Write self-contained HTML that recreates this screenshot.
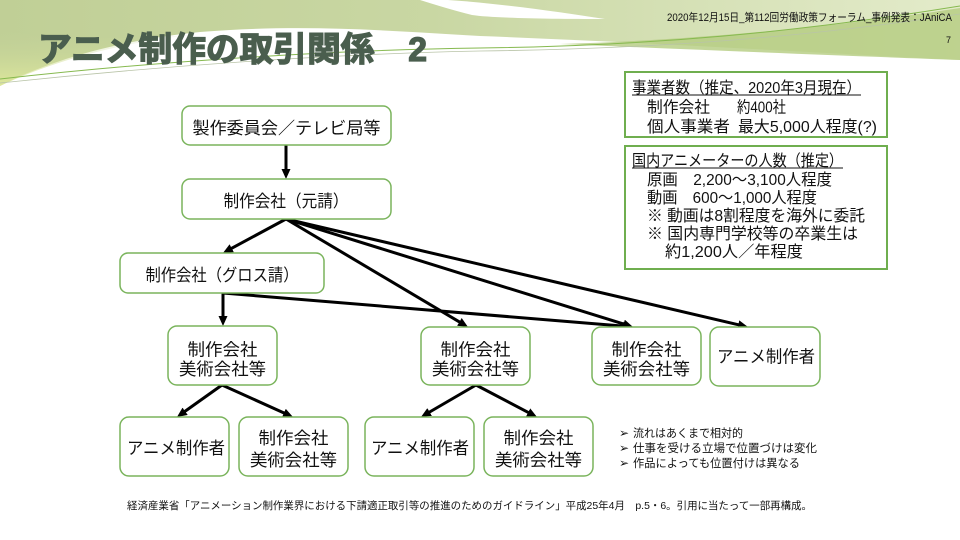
<!DOCTYPE html>
<html lang="ja">
<head>
<meta charset="utf-8">
<style>
  html, body { margin:0; padding:0; background:#fff; }
  body { width:960px; height:540px; overflow:hidden; }
  svg { display:block; }
  text { font-family:"Liberation Sans","Noto Sans CJK JP",sans-serif; fill:#111; }
  .node { fill:#fff; stroke:#7ab45c; stroke-width:1.5; }
  .info { fill:#fff; stroke:#6fae4f; stroke-width:2; }
  .arr { stroke:#000; stroke-width:3; fill:none; marker-end:url(#ah); }
  .nt { font-size:17px; text-anchor:middle; }
  .it { font-size:16px; }
  .bt { font-size:11.5px; }
  .bl { font-size:12px; font-family:"DejaVu Sans",sans-serif; }
</style>
</head>
<body>
<svg width="960" height="540" viewBox="0 0 960 540" xmlns="http://www.w3.org/2000/svg">
  <defs>
    <linearGradient id="hg" x1="0" y1="0" x2="1" y2="0">
      <stop offset="0" stop-color="#c0cf96"/>
      <stop offset="0.45" stop-color="#c9d7a3"/>
      <stop offset="1" stop-color="#e3ebca"/>
    </linearGradient>
    <linearGradient id="hgv" x1="0" y1="0" x2="0" y2="1">
      <stop offset="0" stop-color="#c3d29a" stop-opacity="0"/>
      <stop offset="1" stop-color="#e2eb9c" stop-opacity="0.9"/>
    </linearGradient>
    <marker id="ah" markerUnits="userSpaceOnUse" markerWidth="12" markerHeight="10" refX="2" refY="4.5" orient="auto">
      <path d="M0,0 L10,4.5 L0,9 Z" fill="#000"/>
    </marker>
  </defs>

  <!-- header decoration -->
  <path d="M0,0 H960 V60 C820,53 640,42 480,36 C380,30 300,24 200,32 C120,40 50,60 0,86 Z" fill="url(#hg)"/>
  <path d="M0,30 C60,40 120,40 200,34 C120,42 50,62 0,86 Z" fill="url(#hgv)"/>
  <path d="M560,44 C700,40 850,25 960,8 V60 C850,56 700,50 560,44 Z" fill="#b4cc80" opacity="0.8"/>
  <path d="M420,0 L448,0 C505,4 560,12 605,19 C545,19 492,18 472,15 C452,10 436,5 420,0 Z" fill="#ffffff"/>
  <path d="M0,79 C150,62 330,50 480,48 C650,46 800,32 960,6" stroke="#86b94f" stroke-width="1" fill="none"/>
  <path d="M0,83 C160,66 330,54 480,51 C650,49 800,38 960,14" stroke="#b9c4a8" stroke-width="0.8" fill="none"/>

  <!-- header texts -->
  <text x="667" y="21" font-size="11" textLength="285" lengthAdjust="spacingAndGlyphs">2020年12月15日_第112回労働政策フォーラム_事例発表：JAniCA</text>
  <text x="946" y="43" font-size="9">7</text>
  <text x="38" y="61" font-size="34" font-weight="bold" style="fill:#4a5e4e;stroke:#4a5e4e;stroke-width:1.3" textLength="389" lengthAdjust="spacingAndGlyphs">アニメ制作の取引関係　2</text>

  <!-- info boxes -->
  <rect class="info" x="625" y="72" width="262" height="65"/>
  <text class="it" x="632" y="93" textLength="229" lengthAdjust="spacingAndGlyphs">事業者数（推定、2020年3月現在）</text>
  <line x1="632" y1="95" x2="861" y2="95" stroke="#111" stroke-width="1"/>
  <text class="it" x="647" y="112.5" textLength="63" lengthAdjust="spacingAndGlyphs">制作会社</text>
  <text class="it" x="737" y="112.5" textLength="49" lengthAdjust="spacingAndGlyphs">約400社</text>
  <text class="it" x="647" y="132" textLength="83" lengthAdjust="spacingAndGlyphs">個人事業者</text>
  <text class="it" x="738" y="132" textLength="139" lengthAdjust="spacingAndGlyphs">最大5,000人程度(?)</text>

  <rect class="info" x="625" y="146" width="262" height="123"/>
  <text class="it" x="632" y="166" textLength="211" lengthAdjust="spacingAndGlyphs">国内アニメーターの人数（推定）</text>
  <line x1="632" y1="168" x2="843" y2="168" stroke="#111" stroke-width="1"/>
  <text class="it" x="647" y="185" textLength="185" lengthAdjust="spacingAndGlyphs">原画　2,200～3,100人程度</text>
  <text class="it" x="647" y="203" textLength="170" lengthAdjust="spacingAndGlyphs">動画　600～1,000人程度</text>
  <text class="it" x="647" y="221" textLength="218" lengthAdjust="spacingAndGlyphs">※ 動画は8割程度を海外に委託</text>
  <text class="it" x="647" y="239" textLength="211" lengthAdjust="spacingAndGlyphs">※ 国内専門学校等の卒業生は</text>
  <text class="it" x="665" y="257" textLength="138" lengthAdjust="spacingAndGlyphs">約1,200人／年程度</text>

  <!-- arrows -->
  <line class="arr" x1="286" y1="145" x2="286" y2="171"/>
  <line class="arr" x1="286" y1="219" x2="230.0" y2="249.2"/>
  <line class="arr" x1="286" y1="219" x2="461.1" y2="322.9"/>
  <line class="arr" x1="286" y1="219" x2="625.4" y2="324.6"/>
  <line class="arr" x1="286" y1="219" x2="740.2" y2="325.2"/>
  <line class="arr" x1="223" y1="293" x2="223" y2="318"/>
  <line class="arr" x1="223" y1="293" x2="625.0" y2="326.3"/>
  <line class="arr" x1="222" y1="385" x2="183.5" y2="412.4"/>
  <line class="arr" x1="222" y1="385" x2="285.7" y2="413.7"/>
  <line class="arr" x1="476" y1="385" x2="427.9" y2="413.0"/>
  <line class="arr" x1="476" y1="385" x2="529.9" y2="413.3"/>

  <!-- nodes -->
  <rect class="node" x="182" y="106" width="209" height="39" rx="8"/>
  <text class="nt" x="286.5" y="134" textLength="188" lengthAdjust="spacingAndGlyphs">製作委員会／テレビ局等</text>

  <rect class="node" x="182" y="179" width="209" height="40" rx="8"/>
  <text class="nt" x="286" y="207" textLength="125" lengthAdjust="spacingAndGlyphs">制作会社（元請）</text>

  <rect class="node" x="120" y="253" width="204" height="40" rx="8"/>
  <text class="nt" x="222" y="281" textLength="153" lengthAdjust="spacingAndGlyphs">制作会社（グロス請）</text>

  <rect class="node" x="168" y="326" width="109" height="59" rx="9"/>
  <text class="nt" x="222.5" y="355.5" textLength="70" lengthAdjust="spacingAndGlyphs">制作会社</text>
  <text class="nt" x="222.5" y="375" textLength="87" lengthAdjust="spacingAndGlyphs">美術会社等</text>

  <rect class="node" x="421" y="327" width="109" height="58" rx="9"/>
  <text class="nt" x="475.5" y="355.5" textLength="70" lengthAdjust="spacingAndGlyphs">制作会社</text>
  <text class="nt" x="475.5" y="375" textLength="87" lengthAdjust="spacingAndGlyphs">美術会社等</text>

  <rect class="node" x="592" y="327" width="109" height="58" rx="9"/>
  <text class="nt" x="646.5" y="355.5" textLength="70" lengthAdjust="spacingAndGlyphs">制作会社</text>
  <text class="nt" x="646.5" y="375" textLength="87" lengthAdjust="spacingAndGlyphs">美術会社等</text>

  <rect class="node" x="710" y="327" width="110" height="59" rx="9"/>
  <text class="nt" x="766" y="362.5" textLength="98" lengthAdjust="spacingAndGlyphs">アニメ制作者</text>

  <rect class="node" x="120" y="417" width="109" height="59" rx="9"/>
  <text class="nt" x="176" y="454" textLength="98" lengthAdjust="spacingAndGlyphs">アニメ制作者</text>

  <rect class="node" x="239" y="417" width="109" height="59" rx="9"/>
  <text class="nt" x="293.5" y="444" textLength="70" lengthAdjust="spacingAndGlyphs">制作会社</text>
  <text class="nt" x="293.5" y="466" textLength="87" lengthAdjust="spacingAndGlyphs">美術会社等</text>

  <rect class="node" x="365" y="417" width="109" height="59" rx="9"/>
  <text class="nt" x="420" y="454" textLength="98" lengthAdjust="spacingAndGlyphs">アニメ制作者</text>

  <rect class="node" x="484" y="417" width="109" height="59" rx="9"/>
  <text class="nt" x="538.5" y="444" textLength="70" lengthAdjust="spacingAndGlyphs">制作会社</text>
  <text class="nt" x="538.5" y="466" textLength="87" lengthAdjust="spacingAndGlyphs">美術会社等</text>

  <!-- bullets -->
  <text class="bl" x="619" y="437">➢</text>
  <text class="bt" x="633" y="437" textLength="110" lengthAdjust="spacingAndGlyphs">流れはあくまで相対的</text>
  <text class="bl" x="619" y="452">➢</text>
  <text class="bt" x="633" y="452" textLength="184" lengthAdjust="spacingAndGlyphs">仕事を受ける立場で位置づけは変化</text>
  <text class="bl" x="619" y="467">➢</text>
  <text class="bt" x="633" y="467" textLength="167" lengthAdjust="spacingAndGlyphs">作品によっても位置付けは異なる</text>

  <!-- citation -->
  <text x="127" y="509" font-size="10.5" textLength="685" lengthAdjust="spacingAndGlyphs">経済産業省「アニメーション制作業界における下請適正取引等の推進のためのガイドライン」平成25年4月　p.5・6。引用に当たって一部再構成。</text>
</svg>
</body>
</html>
